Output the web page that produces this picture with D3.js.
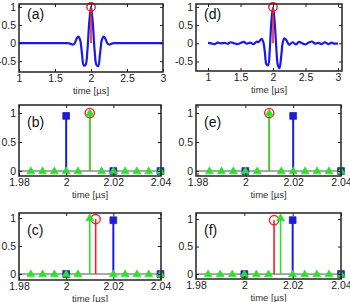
<!DOCTYPE html>
<html>
<head>
<meta charset="utf-8">
<script src="https://cdn.jsdelivr.net/npm/d3@7"></script>
<style>
  body { margin: 0; background: #fff; }
  text { font-family: "Liberation Sans", Arial, sans-serif; }
</style>
</head>
<body>
<div id="wrapper"></div>
<script>
/* global d3 */

// ---- data ----
// (a) clean pulse
const waveTimesA = [1.00, 1.60, 1.65, 1.675, 1.70, 1.725, 1.75, 1.775, 1.80, 1.825, 1.85, 1.875, 1.90, 1.925, 1.95, 1.975,
  2.00, 2.025, 2.05, 2.075, 2.10, 2.125, 2.15, 2.175, 2.20, 2.225, 2.25, 2.275, 2.30, 2.325, 2.35, 2.40, 3.00]
const waveValuesA = [0, 0, 0, 0, -0.01, -0.03, -0.04, 0.0, 0.12, 0.18, 0.08, -0.3, -0.62, -0.6, -0.2, 0.55,
  1.0, 0.55, -0.2, -0.6, -0.64, -0.3, 0.08, 0.18, 0.12, 0.0, -0.04, -0.03, -0.01, 0, 0, 0, 0]

// (d) noisy pulse
const waveTimesD = [1.00, 1.05, 1.10, 1.15, 1.20, 1.25, 1.30, 1.35, 1.40, 1.45, 1.50, 1.55, 1.60, 1.65, 1.70, 1.75,
  1.775, 1.80, 1.825, 1.85, 1.875, 1.90, 1.925, 1.95, 1.975, 2.00, 2.025, 2.05, 2.075, 2.10, 2.125, 2.15,
  2.175, 2.20, 2.225, 2.25, 2.30, 2.35, 2.40, 2.45, 2.50, 2.55, 2.60, 2.65, 2.70, 2.75, 2.80, 2.85, 2.90, 2.95, 3.00]
const waveValuesD = [0.01, 0.0, -0.02, 0.02, 0.0, 0.01, -0.01, 0.03, 0.0, -0.02, 0.01, 0.04, -0.01, 0.02, -0.02, 0.05,
  0.03, 0.08, 0.12, 0.04, -0.25, -0.58, -0.6, -0.18, 0.6, 0.98, 0.6, -0.1, -0.6, -0.68, -0.38, 0.02,
  0.14, 0.1, 0.02, -0.04, 0.03, -0.03, 0.04, 0.0, -0.03, 0.02, 0.05, -0.01, 0.01, -0.02, 0.03, -0.02, 0.02, -0.01, 0.0]

const peakTime = 2.0
const peakValue = 1.0

// stem panels (b, c, e, f)
const greenTimesB = [1.985, 1.99, 1.995, 2.0, 2.005, 2.01, 2.015, 2.02, 2.025, 2.03, 2.035, 2.04]
const greenValuesB = [0, 0, 0, 0, 0, 1.0, 0, 0, 0, 0, 0, 0]
const greenTimesC = [1.985, 1.99, 1.995, 2.0, 2.005, 2.01, 2.02, 2.025, 2.03, 2.035, 2.04]
const greenValuesC = [0, 0, 0, 0, 0, 1.0, 0, 0, 0, 0, 0]
const greenTimesE = [1.985, 1.99, 1.995, 2.0, 2.005, 2.01, 2.015, 2.02, 2.025, 2.03, 2.035, 2.04]
const greenValuesE = [0, 0, 0, 0, 0, 1.0, 0, 0, 0, 0, 0, 0]
const greenTimesF = [1.985, 1.99, 1.995, 2.0, 2.005, 2.01, 2.015, 2.02, 2.025, 2.03, 2.035, 2.04]
const greenValuesF = [0, 0, 0, 0, 0, 0, 1.02, 0, 0, 0, 0, 0]

const blueTimes = [2.0, 2.02, 2.04]
const blueValuesB = [0.95, 0, 0]
const blueValuesC = [0, 0.96, 0]
const blueValuesE = [0, 0.95, 0]
const blueValuesF = [0, 0.98, 0]

const redTimeB = 2.01, redTimeC = 2.0125, redTimeE = 2.01, redTimeF = 2.0123
const redValueB = 1.0, redValueC = 0.98, redValueE = 1.0, redValueF = 0.98

// tick labels
const waveXTicks = [1, 1.5, 2, 2.5, 3]
const waveYTicks = [-0.5, 0, 0.5, 1]
const stemXTicks = [1.98, 2, 2.02, 2.04]
const stemYTicks = [0, 0.5, 1]
const panelLabels = ["(a)", "(b)", "(c)", "(d)", "(e)", "(f)"]

const blue = "#1a1ae6"
const green = "#2ee02e"
const red = "#ee2222"

// ---- layout ----
const width = 350
const height = 302

const svg = d3.select("#wrapper")
  .append("svg")
    .attr("width", width)
    .attr("height", height)

const zip = (ts, vs) => ts.map((t, i) => ({t: t, v: vs[i]}))

const panels = [
  {label: panelLabels[0], kind: "wave", box: [19, 4, 163, 72], xdom: [1, 3], xr: [19, 163], ydom: [-0.8, 1.08],
    wave: zip(waveTimesA, waveValuesA)},
  {label: panelLabels[1], kind: "stem", box: [19, 105, 161, 176], xdom: [1.98, 2.04], xr: [19, 160.5], ydom: [-0.086, 1.138],
    green: zip(greenTimesB, greenValuesB), blue: zip(blueTimes, blueValuesB), red: {t: redTimeB, v: redValueB}},
  {label: panelLabels[2], kind: "stem", box: [19, 213, 161, 280], xdom: [1.98, 2.04], xr: [19, 160.5], ydom: [-0.107, 1.089],
    green: zip(greenTimesC, greenValuesC), blue: zip(blueTimes, blueValuesC), red: {t: redTimeC, v: redValueC}},
  {label: panelLabels[3], kind: "wave", box: [196, 4, 342, 71], xdom: [1, 3], xr: [208, 338], ydom: [-0.76, 1.08],
    wave: zip(waveTimesD, waveValuesD)},
  {label: panelLabels[4], kind: "stem", box: [196, 105, 341, 176], xdom: [1.98, 2.04], xr: [197.5, 341], ydom: [-0.086, 1.138],
    green: zip(greenTimesE, greenValuesE), blue: zip(blueTimes, blueValuesE), red: {t: redTimeE, v: redValueE}},
  {label: panelLabels[5], kind: "stem", box: [196, 213, 341, 279], xdom: [1.98, 2.04], xr: [196, 341], ydom: [-0.09, 1.11],
    green: zip(greenTimesF, greenValuesF), blue: zip(blueTimes, blueValuesF), red: {t: redTimeF, v: redValueF}},
]

panels.forEach(p => drawPanel(p))

function drawPanel(p) {
  const [x0, y0, x1, y1] = p.box
  const g = svg.append("g")

  const xScale = d3.scaleLinear().domain(p.xdom).range(p.xr)
  const yScale = d3.scaleLinear().domain(p.ydom).range([y1, y0])

  const clipId = "clip" + p.label.replace(/\W/g, "")
  g.append("clipPath").attr("id", clipId)
    .append("rect").attr("x", x0).attr("y", y0 - 6).attr("width", x1 - x0).attr("height", y1 - y0 + 6)

  const plot = g.append("g").attr("clip-path", `url(#${clipId})`)

  const isWave = p.kind === "wave"
  const xTicks = isWave ? waveXTicks : stemXTicks
  const yTicks = isWave ? waveYTicks : stemYTicks

  if (isWave) {
    const lineGenerator = d3.line()
      .x(d => xScale(d.t))
      .y(d => yScale(d.v))
      .curve(d3.curveCatmullRom)

    plot.append("path")
      .attr("d", lineGenerator(p.wave))
      .attr("fill", "none")
      .attr("stroke", blue)
      .attr("stroke-width", 2.2)
      .attr("stroke-linejoin", "round")

    // red stem at the peak
    plot.append("line")
      .attr("x1", xScale(peakTime)).attr("x2", xScale(peakTime))
      .attr("y1", yScale(0)).attr("y2", yScale(peakValue))
      .attr("stroke", red).attr("stroke-width", 1.6)
    g.append("circle")
      .attr("cx", xScale(peakTime)).attr("cy", yScale(peakValue))
      .attr("r", 4.2)
      .attr("fill", "none").attr("stroke", red).attr("stroke-width", 1.4)
  } else {
    // baseline
    plot.append("line")
      .attr("x1", x0).attr("x2", x1)
      .attr("y1", yScale(0)).attr("y2", yScale(0))
      .attr("stroke", "#555").attr("stroke-width", 1)

    // blue stems with squares
    plot.selectAll(".bstem").data(p.blue).join("line")
      .attr("x1", d => xScale(d.t)).attr("x2", d => xScale(d.t))
      .attr("y1", yScale(0)).attr("y2", d => yScale(d.v))
      .attr("stroke", blue).attr("stroke-width", 2)
    g.selectAll(".bsq").data(p.blue).join("path")
      .attr("d", d3.symbol(d3.symbolSquare, 46))
      .attr("transform", d => `translate(${xScale(d.t)},${yScale(d.v)})`)
      .attr("fill", blue).attr("stroke", "#2a2aa0").attr("stroke-width", 0.8)

    // red stem with open circle
    plot.append("line")
      .attr("x1", xScale(p.red.t)).attr("x2", xScale(p.red.t))
      .attr("y1", yScale(0)).attr("y2", yScale(p.red.v))
      .attr("stroke", red).attr("stroke-width", 1.6)
    g.append("circle")
      .attr("cx", xScale(p.red.t)).attr("cy", yScale(p.red.v))
      .attr("r", 4.6)
      .attr("fill", "none").attr("stroke", red).attr("stroke-width", 1.4)

    // green stems with triangles
    plot.selectAll(".gstem").data(p.green.filter(d => d.v !== 0)).join("line")
      .attr("x1", d => xScale(d.t)).attr("x2", d => xScale(d.t))
      .attr("y1", yScale(0)).attr("y2", d => yScale(d.v))
      .attr("stroke", green).attr("stroke-width", 1.6)
    g.selectAll(".gtri").data(p.green).join("path")
      .attr("d", d3.symbol(d3.symbolTriangle, 28))
      .attr("transform", d => `translate(${xScale(d.t)},${yScale(d.v) + 0.5})`)
      .attr("fill", green).attr("stroke", green).attr("stroke-width", 0.6)
  }

  // axes with inward ticks
  const fmt = d => String(d)
  const bottomAxis = g.append("g")
    .attr("transform", `translate(0,${y1})`)
    .call(d3.axisBottom(xScale).tickValues(xTicks).tickFormat(fmt)
      .tickSizeInner(-3).tickSizeOuter(0).tickPadding(2.5))
  const topAxis = g.append("g")
    .attr("transform", `translate(0,${y0})`)
    .call(d3.axisTop(xScale).tickValues(xTicks).tickFormat("")
      .tickSizeInner(-3).tickSizeOuter(0))
  const leftAxis = g.append("g")
    .attr("transform", `translate(${x0},0)`)
    .call(d3.axisLeft(yScale).tickValues(yTicks).tickFormat(fmt)
      .tickSizeInner(-3).tickSizeOuter(0).tickPadding(3))
  const rightAxis = g.append("g")
    .attr("transform", `translate(${x1},0)`)
    .call(d3.axisRight(yScale).tickValues(yTicks).tickFormat("")
      .tickSizeInner(-3).tickSizeOuter(0))

  ;[bottomAxis, topAxis, leftAxis, rightAxis].forEach(a => {
    a.select(".domain").remove()
    a.selectAll("line").attr("stroke", "#222")
    a.selectAll("text")
      .attr("fill", "#222")
      .style("font-size", "10.5px")
      .style("font-family", "'Liberation Sans', Arial, sans-serif")
  })

  // frame
  g.append("rect")
    .attr("x", x0).attr("y", y0)
    .attr("width", x1 - x0).attr("height", y1 - y0)
    .attr("fill", "none")
    .attr("stroke", "#222")
    .attr("stroke-width", 1.5)

  // x axis label
  g.append("text")
    .attr("x", (x0 + x1) / 2)
    .attr("y", y1 + 22)
    .attr("text-anchor", "middle")
    .attr("fill", "#333")
    .style("font-size", "9.5px")
    .text("time [\u00b5s]")

  // panel label
  g.append("text")
    .attr("x", x0 + 8)
    .attr("y", y0 + (isWave ? 15 : 22))
    .attr("fill", "#111")
    .style("font-size", "14px")
    .text(p.label)
}
</script>
</body>
</html>
